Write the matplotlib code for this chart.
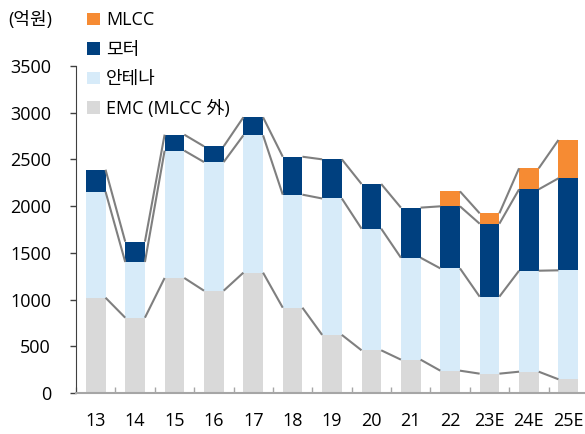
import matplotlib
matplotlib.use("Agg")
import matplotlib.pyplot as plt
import numpy as np
from matplotlib.patches import Patch

plt.rcParams['font.family'] = ['Open Sans', 'Noto Sans CJK KR', 'DejaVu Sans']

categories = ["13", "14", "15", "16", "17", "18", "19", "20", "21", "22", "23E", "24E", "25E"]
emc = [1020, 806, 1231, 1095, 1288, 913, 622, 457, 357, 239, 207, 228, 147]
antenna = [1135, 596, 1363, 1377, 1470, 1210, 1460, 1302, 1091, 1095, 824, 1081, 1166]
motor = [235, 218, 171, 168, 193, 406, 419, 478, 536, 664, 781, 871, 985]
mlcc = [np.nan] * 9 + [160, 111, 225, 410]

series_names = ["EMC (MLCC 外)", "안테나", "모터", "MLCC"]
colors = ["#D9D9D9", "#D7EBF9", "#00407F", "#F68B33"]

fig = plt.figure(figsize=(5.85, 4.34), dpi=100)
ax = fig.add_axes([76 / 585, 41 / 434, 510 / 585, 327 / 434])

x = np.arange(len(categories))
w = 0.5
data = [np.array(emc, float), np.array(antenna, float), np.array(motor, float), np.array(mlcc, float)]
bottom = np.zeros(len(categories))
tops = []
for vals, c in zip(data, colors):
    v = np.nan_to_num(vals)
    ax.bar(x, v, w, bottom=bottom, color=c, zorder=2, linewidth=0)
    top = bottom + v
    tops.append(np.where(np.isnan(vals), np.nan, top))
    bottom = top

# series lines
for top in tops:
    for i in range(len(x) - 1):
        if np.isnan(top[i]) or np.isnan(top[i + 1]):
            continue
        ax.plot([x[i] + w / 2, x[i + 1] - w / 2], [top[i], top[i + 1]],
                color="#7F7F7F", lw=1.5, zorder=3, solid_capstyle='butt')

fs = 13
ax.set_xlim(-0.5, 12.45)
ax.set_ylim(0, 3500)
ax.set_yticks(np.arange(0, 3501, 500))
ax.tick_params(axis='y', labelsize=fs, length=4, width=1, color="#404040", pad=14)
ax.set_xticks(x)
ax.set_xticklabels(categories)
ax.set_xticks(np.arange(-0.5, 12.5, 1), minor=True)
ax.tick_params(axis='x', which='major', length=0, labelsize=fs, pad=14)
ax.tick_params(axis='x', which='minor', direction='in', length=4, width=1, color="#A6A6A6")
for s in ["top", "right"]:
    ax.spines[s].set_visible(False)
ax.spines["left"].set_color("#404040")
ax.spines["bottom"].set_color("#A6A6A6")
ax.spines["bottom"].set_linewidth(1.5)

fig.text(8 / 585, 1 - 20 / 434, "(억원)", fontsize=fs, va='center', ha='left')

handles = [Patch(facecolor=colors[i], edgecolor='none') for i in [3, 2, 1, 0]]
labels = [series_names[i] for i in [3, 2, 1, 0]]
leg = fig.legend(handles, labels, loc='upper left', bbox_to_anchor=(80 / 585, 1 - 4 / 434),
                 frameon=False, fontsize=fs, handlelength=0.7, handleheight=0.7,
                 handletextpad=0.35, labelspacing=0.64, borderaxespad=0)

fig.savefig("out.png", dpi=100)
